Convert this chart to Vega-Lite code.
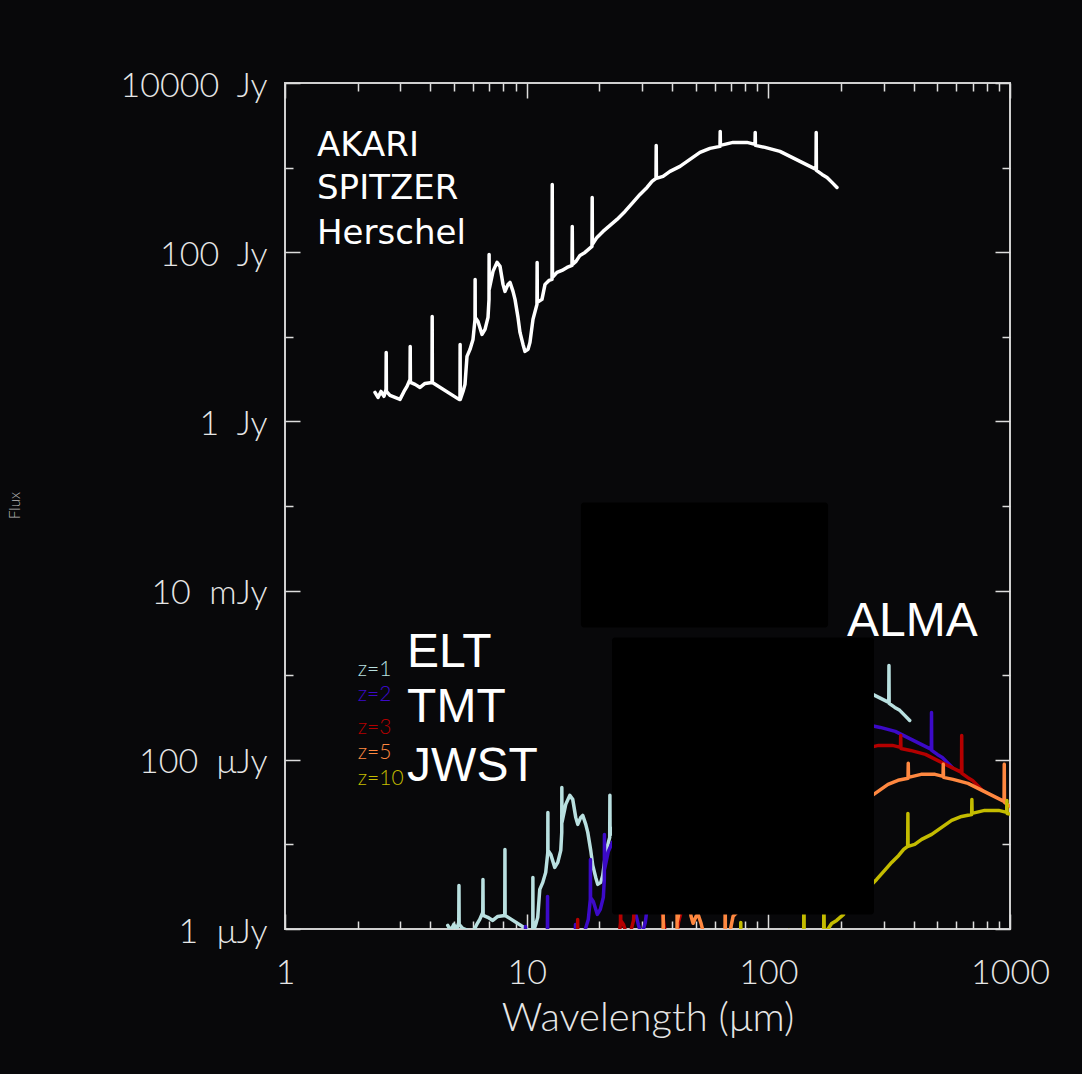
{
  "$schema": "https://vega.github.io/schema/vega-lite/v6.json",
  "width": 725,
  "height": 846,
  "autosize": "none",
  "padding": {"left": 285, "top": 83, "right": 72, "bottom": 145},
  "background": "#08080a",
  "config": {
    "view": {"stroke": "#cfcfcf", "strokeWidth": 2},
    "axis": {
      "domain": false,
      "grid": false,
      "tickColor": "#dddddd",
      "tickWidth": 1.5,
      "labelColor": "#e6e6e6",
      "labelFont": "Lato",
      "labelFontWeight": 300,
      "labelFontSize": 34,
      "labelFlush": false,
      "labelOverlap": false,
      "labelBound": false,
      "titleColor": "#e6e6e6",
      "titleFont": "Lato",
      "titleFontWeight": 300
    }
  },
  "datasets": {
    "sed": [
      {"series":"local","wavelength":2.357,"flux":2.20},{"series":"local","wavelength":2.426,"flux":1.92},{"series":"local","wavelength":2.496,"flux":2.26},{"series":"local","wavelength":2.568,"flux":1.98},{"series":"local","wavelength":2.618,"flux":2.39},{"series":"local","wavelength":2.623,"flux":6.54},{"series":"local","wavelength":2.628,"flux":2.26},{"series":"local","wavelength":2.719,"flux":2.03},{"series":"local","wavelength":2.852,"flux":1.92},{"series":"local","wavelength":2.991,"flux":1.82},{"series":"local","wavelength":3.108,"flux":2.26},{"series":"local","wavelength":3.198,"flux":2.59},{"series":"local","wavelength":3.291,"flux":3.14},{"series":"local","wavelength":3.297,"flux":7.70},{"series":"local","wavelength":3.303,"flux":2.89},{"series":"local","wavelength":3.452,"flux":2.74},{"series":"local","wavelength":3.620,"flux":2.52},{"series":"local","wavelength":3.797,"flux":2.81},{"series":"local","wavelength":4.058,"flux":2.89},{"series":"local","wavelength":4.065,"flux":17.42},{"series":"local","wavelength":4.072,"flux":2.89},{"series":"local","wavelength":5.248,"flux":1.82},{"series":"local","wavelength":5.298,"flux":1.87},{"series":"local","wavelength":5.305,"flux":8.13},{"series":"local","wavelength":5.312,"flux":1.82},{"series":"local","wavelength":5.452,"flux":2.26},{"series":"local","wavelength":5.557,"flux":2.74},{"series":"local","wavelength":5.664,"flux":5.87},{"series":"local","wavelength":5.828,"flux":7.10},{"series":"local","wavelength":5.997,"flux":9.32},{"series":"local","wavelength":6.113,"flux":16.06},{"series":"local","wavelength":6.120,"flux":47.7},{"series":"local","wavelength":6.127,"flux":16.96},{"series":"local","wavelength":6.290,"flux":15.21},{"series":"local","wavelength":6.535,"flux":10.67},{"series":"local","wavelength":6.724,"flux":12.23},{"series":"local","wavelength":6.919,"flux":16.96},{"series":"local","wavelength":6.985,"flux":27.68},{"series":"local","wavelength":6.992,"flux":94.19},{"series":"local","wavelength":6.999,"flux":36.34},{"series":"local","wavelength":7.256,"flux":59.3},{"series":"local","wavelength":7.539,"flux":75.77},{"series":"local","wavelength":7.757,"flux":67.96},{"series":"local","wavelength":7.982,"flux":41.64},{"series":"local","wavelength":8.136,"flux":34.41},{"series":"local","wavelength":8.371,"flux":41.64},{"series":"local","wavelength":8.532,"flux":43.95},{"series":"local","wavelength":8.780,"flux":34.41},{"series":"local","wavelength":8.949,"flux":27.68},{"series":"local","wavelength":9.206,"flux":16.96},{"series":"local","wavelength":9.384,"flux":11.27},{"series":"local","wavelength":9.657,"flux":8.13},{"series":"local","wavelength":9.842,"flux":6.72},{"series":"local","wavelength":10.13,"flux":7.10},{"series":"local","wavelength":10.32,"flux":8.59},{"series":"local","wavelength":10.62,"flux":16.06},{"series":"local","wavelength":11.03,"flux":24.15},{"series":"local","wavelength":11.05,"flux":75.77},{"series":"local","wavelength":11.07,"flux":25.5},{"series":"local","wavelength":11.57,"flux":27.68},{"series":"local","wavelength":11.91,"flux":41.64},{"series":"local","wavelength":12.37,"flux":46.42},{"series":"local","wavelength":12.73,"flux":47.70},{"series":"local","wavelength":12.76,"flux":633},{"series":"local","wavelength":12.79,"flux":50.36},{"series":"local","wavelength":13.35,"flux":57.70},{"series":"local","wavelength":14.00,"flux":60.94},{"series":"local","wavelength":14.69,"flux":66.14},{"series":"local","wavelength":15.40,"flux":69.82},{"series":"local","wavelength":15.44,"flux":201.8},{"series":"local","wavelength":15.48,"flux":71.75},{"series":"local","wavelength":16.00,"flux":77.85},{"series":"local","wavelength":16.62,"flux":91.68},{"series":"local","wavelength":17.43,"flux":99.45},{"series":"local","wavelength":18.63,"flux":117.1},{"series":"local","wavelength":18.67,"flux":444.4},{"series":"local","wavelength":18.71,"flux":123.7},{"series":"local","wavelength":19.54,"flux":149.6},{"series":"local","wavelength":20.70,"flux":176.2},{"series":"local","wavelength":22.13,"flux":207.4},{"series":"local","wavelength":23.65,"flux":244.2},{"series":"local","wavelength":25.52,"flux":303.6},{"series":"local","wavelength":27.54,"flux":388},{"series":"local","wavelength":29.44,"flux":482},{"series":"local","wavelength":31.48,"flux":583.4},{"series":"local","wavelength":33.01,"flux":687},{"series":"local","wavelength":34.29,"flux":745.5},{"series":"local","wavelength":34.36,"flux":1830},{"series":"local","wavelength":34.43,"flux":745.5},{"series":"local","wavelength":36.66,"flux":787},{"series":"local","wavelength":39.19,"flux":902},{"series":"local","wavelength":43.10,"flux":1033},{"series":"local","wavelength":47.40,"flux":1250},{"series":"local","wavelength":52.14,"flux":1512},{"series":"local","wavelength":57.35,"flux":1687},{"series":"local","wavelength":63.09,"flux":1781},{"series":"local","wavelength":63.22,"flux":2679},{"series":"local","wavelength":63.35,"flux":1830},{"series":"local","wavelength":71.42,"flux":1986},{"series":"local","wavelength":81.60,"flux":1986},{"series":"local","wavelength":88.07,"flux":1880},{"series":"local","wavelength":88.25,"flux":2607},{"series":"local","wavelength":88.43,"flux":1830},{"series":"local","wavelength":96.87,"flux":1733},{"series":"local","wavelength":111.7,"flux":1554},{"series":"local","wavelength":122.9,"flux":1357},{"series":"local","wavelength":135.2,"flux":1184},{"series":"local","wavelength":145.9,"flux":1062},{"series":"local","wavelength":157.5,"flux":952},{"series":"local","wavelength":157.8,"flux":2607},{"series":"local","wavelength":158.1,"flux":926.7},{"series":"local","wavelength":166.8,"flux":831},{"series":"local","wavelength":174.9,"flux":766},{"series":"local","wavelength":183.4,"flux":668.7},{"series":"local","wavelength":192.3,"flux":583.4},

      {"series":"z=1","wavelength":4.714,"flux":1.102e-6},{"series":"z=1","wavelength":4.852,"flux":9.62e-7},{"series":"z=1","wavelength":4.992,"flux":1.132e-6},{"series":"z=1","wavelength":5.136,"flux":9.92e-7},{"series":"z=1","wavelength":5.236,"flux":1.197e-6},{"series":"z=1","wavelength":5.246,"flux":3.277e-6},{"series":"z=1","wavelength":5.256,"flux":1.132e-6},{"series":"z=1","wavelength":5.438,"flux":1.017e-6},{"series":"z=1","wavelength":5.704,"flux":9.62e-7},{"series":"z=1","wavelength":5.982,"flux":9.12e-7},{"series":"z=1","wavelength":6.216,"flux":1.132e-6},{"series":"z=1","wavelength":6.396,"flux":1.298e-6},{"series":"z=1","wavelength":6.582,"flux":1.573e-6},{"series":"z=1","wavelength":6.594,"flux":3.858e-6},{"series":"z=1","wavelength":6.606,"flux":1.448e-6},{"series":"z=1","wavelength":6.904,"flux":1.373e-6},{"series":"z=1","wavelength":7.240,"flux":1.263e-6},{"series":"z=1","wavelength":7.594,"flux":1.408e-6},{"series":"z=1","wavelength":8.116,"flux":1.448e-6},{"series":"z=1","wavelength":8.130,"flux":8.73e-6},{"series":"z=1","wavelength":8.144,"flux":1.448e-6},{"series":"z=1","wavelength":10.50,"flux":9.12e-7},{"series":"z=1","wavelength":10.60,"flux":9.37e-7},{"series":"z=1","wavelength":10.61,"flux":4.07e-6},{"series":"z=1","wavelength":10.62,"flux":9.12e-7},{"series":"z=1","wavelength":10.90,"flux":1.132e-6},{"series":"z=1","wavelength":11.11,"flux":1.373e-6},{"series":"z=1","wavelength":11.33,"flux":2.94e-6},{"series":"z=1","wavelength":11.66,"flux":3.557e-6},{"series":"z=1","wavelength":11.99,"flux":4.67e-6},{"series":"z=1","wavelength":12.23,"flux":8.05e-6},{"series":"z=1","wavelength":12.24,"flux":2.39e-5},{"series":"z=1","wavelength":12.25,"flux":8.50e-6},{"series":"z=1","wavelength":12.58,"flux":7.62e-6},{"series":"z=1","wavelength":13.07,"flux":5.35e-6},{"series":"z=1","wavelength":13.45,"flux":6.13e-6},{"series":"z=1","wavelength":13.84,"flux":8.50e-6},{"series":"z=1","wavelength":13.97,"flux":1.387e-5},{"series":"z=1","wavelength":13.98,"flux":4.72e-5},{"series":"z=1","wavelength":14.00,"flux":1.821e-5},{"series":"z=1","wavelength":14.51,"flux":2.97e-5},{"series":"z=1","wavelength":15.08,"flux":3.80e-5},{"series":"z=1","wavelength":15.51,"flux":3.405e-5},{"series":"z=1","wavelength":15.96,"flux":2.086e-5},{"series":"z=1","wavelength":16.27,"flux":1.724e-5},{"series":"z=1","wavelength":16.74,"flux":2.086e-5},{"series":"z=1","wavelength":17.06,"flux":2.202e-5},{"series":"z=1","wavelength":17.56,"flux":1.724e-5},{"series":"z=1","wavelength":17.90,"flux":1.387e-5},{"series":"z=1","wavelength":18.41,"flux":8.50e-6},{"series":"z=1","wavelength":18.77,"flux":5.65e-6},{"series":"z=1","wavelength":19.31,"flux":4.07e-6},{"series":"z=1","wavelength":19.68,"flux":3.37e-6},{"series":"z=1","wavelength":20.26,"flux":3.557e-6},{"series":"z=1","wavelength":20.64,"flux":4.30e-6},{"series":"z=1","wavelength":21.24,"flux":8.05e-6},{"series":"z=1","wavelength":22.06,"flux":1.21e-5},{"series":"z=1","wavelength":22.10,"flux":3.80e-5},{"series":"z=1","wavelength":22.14,"flux":1.278e-5},{"series":"z=1","wavelength":23.82,"flux":2.086e-5},{"series":"z=1","wavelength":33.24,"flux":4.59e-5},{"series":"z=1","wavelength":47.30,"flux":1.223e-4},{"series":"z=1","wavelength":62.96,"flux":2.923e-4},{"series":"z=1","wavelength":86.2,"flux":5.18e-4},{"series":"z=1","wavelength":104.3,"flux":7.58e-4},{"series":"z=1","wavelength":142.8,"flux":9.95e-4},{"series":"z=1","wavelength":163.2,"flux":9.95e-4},{"series":"z=1","wavelength":193.7,"flux":8.68e-4},{"series":"z=1","wavelength":223.4,"flux":7.79e-4},{"series":"z=1","wavelength":245.8,"flux":6.80e-4},{"series":"z=1","wavelength":270.4,"flux":5.93e-4},{"series":"z=1","wavelength":291.8,"flux":5.32e-4},{"series":"z=1","wavelength":315.0,"flux":4.77e-4},{"series":"z=1","wavelength":315.6,"flux":1.306e-3},{"series":"z=1","wavelength":316.2,"flux":4.64e-4},{"series":"z=1","wavelength":333.6,"flux":4.16e-4},{"series":"z=1","wavelength":349.8,"flux":3.84e-4},{"series":"z=1","wavelength":366.8,"flux":3.35e-4},{"series":"z=1","wavelength":384.6,"flux":2.92e-4},

      {"series":"z=2","wavelength":7.071,"flux":3.065e-7},{"series":"z=2","wavelength":7.854,"flux":3.33e-7},{"series":"z=2","wavelength":7.869,"flux":9.11e-7},{"series":"z=2","wavelength":7.884,"flux":3.15e-7},{"series":"z=2","wavelength":8.973,"flux":2.535e-7},{"series":"z=2","wavelength":9.873,"flux":4.37e-7},{"series":"z=2","wavelength":9.891,"flux":1.073e-6},{"series":"z=2","wavelength":9.909,"flux":4.03e-7},{"series":"z=2","wavelength":10.86,"flux":3.51e-7},{"series":"z=2","wavelength":12.17,"flux":4.03e-7},{"series":"z=2","wavelength":12.20,"flux":2.427e-6},{"series":"z=2","wavelength":12.22,"flux":4.03e-7},{"series":"z=2","wavelength":15.74,"flux":2.535e-7},{"series":"z=2","wavelength":15.89,"flux":2.60e-7},{"series":"z=2","wavelength":15.92,"flux":1.133e-6},{"series":"z=2","wavelength":15.94,"flux":2.535e-7},{"series":"z=2","wavelength":16.67,"flux":3.82e-7},{"series":"z=2","wavelength":16.99,"flux":8.18e-7},{"series":"z=2","wavelength":17.48,"flux":9.89e-7},{"series":"z=2","wavelength":17.99,"flux":1.298e-6},{"series":"z=2","wavelength":18.34,"flux":2.237e-6},{"series":"z=2","wavelength":18.36,"flux":6.645e-6},{"series":"z=2","wavelength":18.38,"flux":2.363e-6},{"series":"z=2","wavelength":18.87,"flux":2.119e-6},{"series":"z=2","wavelength":19.61,"flux":1.486e-6},{"series":"z=2","wavelength":20.17,"flux":1.704e-6},{"series":"z=2","wavelength":20.76,"flux":2.363e-6},{"series":"z=2","wavelength":20.96,"flux":3.856e-6},{"series":"z=2","wavelength":20.98,"flux":1.312e-5},{"series":"z=2","wavelength":21.00,"flux":5.06e-6},{"series":"z=2","wavelength":21.77,"flux":8.26e-6},{"series":"z=2","wavelength":22.62,"flux":1.0555e-5},{"series":"z=2","wavelength":23.27,"flux":9.47e-6},{"series":"z=2","wavelength":23.95,"flux":5.80e-6},{"series":"z=2","wavelength":24.41,"flux":4.79e-6},{"series":"z=2","wavelength":25.11,"flux":5.80e-6},{"series":"z=2","wavelength":25.60,"flux":6.12e-6},{"series":"z=2","wavelength":26.34,"flux":4.79e-6},{"series":"z=2","wavelength":26.85,"flux":3.856e-6},{"series":"z=2","wavelength":27.62,"flux":2.363e-6},{"series":"z=2","wavelength":28.15,"flux":1.570e-6},{"series":"z=2","wavelength":28.97,"flux":1.133e-6},{"series":"z=2","wavelength":29.53,"flux":9.36e-7},{"series":"z=2","wavelength":30.39,"flux":9.89e-7},{"series":"z=2","wavelength":30.96,"flux":1.196e-6},{"series":"z=2","wavelength":31.86,"flux":2.237e-6},{"series":"z=2","wavelength":33.09,"flux":3.364e-6},{"series":"z=2","wavelength":33.15,"flux":1.0555e-5},{"series":"z=2","wavelength":33.21,"flux":3.55e-6},{"series":"z=2","wavelength":35.73,"flux":5.80e-6},{"series":"z=2","wavelength":38.19,"flux":6.645e-6},{"series":"z=2","wavelength":38.28,"flux":8.82e-5},{"series":"z=2","wavelength":38.37,"flux":7.015e-6},{"series":"z=2","wavelength":42.00,"flux":8.49e-6},{"series":"z=2","wavelength":46.20,"flux":9.73e-6},{"series":"z=2","wavelength":46.32,"flux":2.811e-5},{"series":"z=2","wavelength":46.44,"flux":9.99e-6},{"series":"z=2","wavelength":49.86,"flux":1.277e-5},{"series":"z=2","wavelength":55.89,"flux":1.631e-5},{"series":"z=2","wavelength":56.01,"flux":6.19e-5},{"series":"z=2","wavelength":56.13,"flux":1.723e-5},{"series":"z=2","wavelength":62.10,"flux":2.454e-5},{"series":"z=2","wavelength":70.95,"flux":3.40e-5},{"series":"z=2","wavelength":82.62,"flux":5.40e-5},{"series":"z=2","wavelength":94.44,"flux":8.13e-5},{"series":"z=2","wavelength":102.9,"flux":1.0385e-4},{"series":"z=2","wavelength":103.1,"flux":2.549e-4},{"series":"z=2","wavelength":103.3,"flux":1.0385e-4},{"series":"z=2","wavelength":117.6,"flux":1.256e-4},{"series":"z=2","wavelength":142.2,"flux":1.741e-4},{"series":"z=2","wavelength":156.4,"flux":2.106e-4},{"series":"z=2","wavelength":189.3,"flux":2.481e-4},{"series":"z=2","wavelength":189.7,"flux":3.73e-4},{"series":"z=2","wavelength":190.1,"flux":2.549e-4},{"series":"z=2","wavelength":214.3,"flux":2.767e-4},{"series":"z=2","wavelength":244.8,"flux":2.767e-4},{"series":"z=2","wavelength":264.2,"flux":2.619e-4},{"series":"z=2","wavelength":264.8,"flux":3.63e-4},{"series":"z=2","wavelength":265.3,"flux":2.549e-4},{"series":"z=2","wavelength":290.6,"flux":2.414e-4},{"series":"z=2","wavelength":335.1,"flux":2.165e-4},{"series":"z=2","wavelength":368.7,"flux":1.890e-4},{"series":"z=2","wavelength":405.6,"flux":1.649e-4},{"series":"z=2","wavelength":437.7,"flux":1.479e-4},{"series":"z=2","wavelength":472.5,"flux":1.326e-4},{"series":"z=2","wavelength":473.4,"flux":3.63e-4},{"series":"z=2","wavelength":474.3,"flux":1.291e-4},{"series":"z=2","wavelength":500.4,"flux":1.158e-4},{"series":"z=2","wavelength":524.7,"flux":1.067e-4},{"series":"z=2","wavelength":550.2,"flux":9.31e-5},{"series":"z=2","wavelength":576.9,"flux":8.13e-5},

      {"series":"z=3","wavelength":9.428,"flux":1.639e-7},{"series":"z=3","wavelength":10.47,"flux":1.78e-7},{"series":"z=3","wavelength":10.49,"flux":4.87e-7},{"series":"z=3","wavelength":10.51,"flux":1.68e-7},{"series":"z=3","wavelength":11.96,"flux":1.356e-7},{"series":"z=3","wavelength":13.16,"flux":2.34e-7},{"series":"z=3","wavelength":13.19,"flux":5.74e-7},{"series":"z=3","wavelength":13.21,"flux":2.15e-7},{"series":"z=3","wavelength":14.48,"flux":1.88e-7},{"series":"z=3","wavelength":16.23,"flux":2.15e-7},{"series":"z=3","wavelength":16.26,"flux":1.298e-6},{"series":"z=3","wavelength":16.29,"flux":2.15e-7},{"series":"z=3","wavelength":20.99,"flux":1.356e-7},{"series":"z=3","wavelength":21.19,"flux":1.39e-7},{"series":"z=3","wavelength":21.22,"flux":6.06e-7},{"series":"z=3","wavelength":21.25,"flux":1.356e-7},{"series":"z=3","wavelength":22.23,"flux":2.04e-7},{"series":"z=3","wavelength":22.66,"flux":4.37e-7},{"series":"z=3","wavelength":23.31,"flux":5.29e-7},{"series":"z=3","wavelength":23.99,"flux":6.94e-7},{"series":"z=3","wavelength":24.45,"flux":1.196e-6},{"series":"z=3","wavelength":24.48,"flux":3.554e-6},{"series":"z=3","wavelength":24.51,"flux":1.264e-6},{"series":"z=3","wavelength":25.16,"flux":1.133e-6},{"series":"z=3","wavelength":26.14,"flux":7.95e-7},{"series":"z=3","wavelength":26.90,"flux":9.11e-7},{"series":"z=3","wavelength":27.68,"flux":1.264e-6},{"series":"z=3","wavelength":27.94,"flux":2.062e-6},{"series":"z=3","wavelength":27.97,"flux":7.017e-6},{"series":"z=3","wavelength":28.00,"flux":2.707e-6},{"series":"z=3","wavelength":29.02,"flux":4.418e-6},{"series":"z=3","wavelength":30.16,"flux":5.645e-6},{"series":"z=3","wavelength":31.03,"flux":5.063e-6},{"series":"z=3","wavelength":31.93,"flux":3.102e-6},{"series":"z=3","wavelength":32.54,"flux":2.564e-6},{"series":"z=3","wavelength":33.48,"flux":3.102e-6},{"series":"z=3","wavelength":34.13,"flux":3.274e-6},{"series":"z=3","wavelength":35.12,"flux":2.564e-6},{"series":"z=3","wavelength":35.80,"flux":2.062e-6},{"series":"z=3","wavelength":36.82,"flux":1.264e-6},{"series":"z=3","wavelength":37.54,"flux":8.40e-7},{"series":"z=3","wavelength":38.63,"flux":6.06e-7},{"series":"z=3","wavelength":39.37,"flux":5.01e-7},{"series":"z=3","wavelength":40.52,"flux":5.29e-7},{"series":"z=3","wavelength":41.28,"flux":6.40e-7},{"series":"z=3","wavelength":42.48,"flux":1.196e-6},{"series":"z=3","wavelength":44.12,"flux":1.80e-6},{"series":"z=3","wavelength":44.20,"flux":5.645e-6},{"series":"z=3","wavelength":44.28,"flux":1.90e-6},{"series":"z=3","wavelength":47.64,"flux":3.102e-6},{"series":"z=3","wavelength":50.92,"flux":3.554e-6},{"series":"z=3","wavelength":51.04,"flux":4.716e-5},{"series":"z=3","wavelength":51.16,"flux":3.752e-6},{"series":"z=3","wavelength":56.00,"flux":4.54e-6},{"series":"z=3","wavelength":61.60,"flux":5.20e-6},{"series":"z=3","wavelength":61.76,"flux":1.503e-5},{"series":"z=3","wavelength":61.92,"flux":5.345e-6},{"series":"z=3","wavelength":66.48,"flux":6.83e-6},{"series":"z=3","wavelength":74.52,"flux":8.72e-6},{"series":"z=3","wavelength":74.68,"flux":3.311e-5},{"series":"z=3","wavelength":74.84,"flux":9.22e-6},{"series":"z=3","wavelength":82.80,"flux":1.313e-5},{"series":"z=3","wavelength":94.60,"flux":1.819e-5},{"series":"z=3","wavelength":110.2,"flux":2.891e-5},{"series":"z=3","wavelength":125.9,"flux":4.346e-5},{"series":"z=3","wavelength":137.2,"flux":5.554e-5},{"series":"z=3","wavelength":137.4,"flux":1.363e-4},{"series":"z=3","wavelength":137.7,"flux":5.554e-5},{"series":"z=3","wavelength":156.8,"flux":6.72e-5},{"series":"z=3","wavelength":189.6,"flux":9.31e-5},{"series":"z=3","wavelength":208.6,"flux":1.126e-4},{"series":"z=3","wavelength":252.4,"flux":1.327e-4},{"series":"z=3","wavelength":252.9,"flux":1.996e-4},{"series":"z=3","wavelength":253.4,"flux":1.363e-4},{"series":"z=3","wavelength":285.7,"flux":1.480e-4},{"series":"z=3","wavelength":326.4,"flux":1.480e-4},{"series":"z=3","wavelength":352.3,"flux":1.401e-4},{"series":"z=3","wavelength":353.0,"flux":1.942e-4},{"series":"z=3","wavelength":353.7,"flux":1.363e-4},{"series":"z=3","wavelength":387.5,"flux":1.291e-4},{"series":"z=3","wavelength":446.8,"flux":1.158e-4},{"series":"z=3","wavelength":491.6,"flux":1.011e-4},{"series":"z=3","wavelength":540.8,"flux":8.82e-5},{"series":"z=3","wavelength":583.6,"flux":7.91e-5},{"series":"z=3","wavelength":630.0,"flux":7.09e-5},{"series":"z=3","wavelength":631.2,"flux":1.942e-4},{"series":"z=3","wavelength":632.4,"flux":6.90e-5},{"series":"z=3","wavelength":667.2,"flux":6.19e-5},{"series":"z=3","wavelength":699.6,"flux":5.71e-5},{"series":"z=3","wavelength":733.6,"flux":4.98e-5},{"series":"z=3","wavelength":769.2,"flux":4.35e-5},

      {"series":"z=5","wavelength":14.14,"flux":7.46e-8},{"series":"z=5","wavelength":15.71,"flux":8.10e-8},{"series":"z=5","wavelength":15.74,"flux":2.217e-7},{"series":"z=5","wavelength":15.77,"flux":7.66e-8},{"series":"z=5","wavelength":17.95,"flux":6.17e-8},{"series":"z=5","wavelength":19.75,"flux":1.064e-7},{"series":"z=5","wavelength":19.78,"flux":2.61e-7},{"series":"z=5","wavelength":19.82,"flux":9.80e-8},{"series":"z=5","wavelength":21.72,"flux":8.54e-8},{"series":"z=5","wavelength":24.35,"flux":9.80e-8},{"series":"z=5","wavelength":24.39,"flux":5.905e-7},{"series":"z=5","wavelength":24.43,"flux":9.80e-8},{"series":"z=5","wavelength":31.49,"flux":6.17e-8},{"series":"z=5","wavelength":31.79,"flux":6.34e-8},{"series":"z=5","wavelength":31.83,"flux":2.756e-7},{"series":"z=5","wavelength":31.87,"flux":6.17e-8},{"series":"z=5","wavelength":33.34,"flux":9.29e-8},{"series":"z=5","wavelength":33.98,"flux":1.99e-7},{"series":"z=5","wavelength":34.97,"flux":2.407e-7},{"series":"z=5","wavelength":35.98,"flux":3.159e-7},{"series":"z=5","wavelength":36.68,"flux":5.444e-7},{"series":"z=5","wavelength":36.72,"flux":1.617e-6},{"series":"z=5","wavelength":36.76,"flux":5.749e-7},{"series":"z=5","wavelength":37.74,"flux":5.156e-7},{"series":"z=5","wavelength":39.21,"flux":3.617e-7},{"series":"z=5","wavelength":40.34,"flux":4.146e-7},{"series":"z=5","wavelength":41.51,"flux":5.749e-7},{"series":"z=5","wavelength":41.91,"flux":9.38e-7},{"series":"z=5","wavelength":41.95,"flux":3.193e-6},{"series":"z=5","wavelength":41.99,"flux":1.232e-6},{"series":"z=5","wavelength":43.54,"flux":2.010e-6},{"series":"z=5","wavelength":45.23,"flux":2.569e-6},{"series":"z=5","wavelength":46.54,"flux":2.304e-6},{"series":"z=5","wavelength":47.89,"flux":1.412e-6},{"series":"z=5","wavelength":48.82,"flux":1.167e-6},{"series":"z=5","wavelength":50.23,"flux":1.412e-6},{"series":"z=5","wavelength":51.19,"flux":1.490e-6},{"series":"z=5","wavelength":52.68,"flux":1.167e-6},{"series":"z=5","wavelength":53.69,"flux":9.38e-7},{"series":"z=5","wavelength":55.24,"flux":5.749e-7},{"series":"z=5","wavelength":56.30,"flux":3.821e-7},{"series":"z=5","wavelength":57.94,"flux":2.756e-7},{"series":"z=5","wavelength":59.05,"flux":2.278e-7},{"series":"z=5","wavelength":60.78,"flux":2.407e-7},{"series":"z=5","wavelength":61.92,"flux":2.912e-7},{"series":"z=5","wavelength":63.72,"flux":5.444e-7},{"series":"z=5","wavelength":66.18,"flux":8.19e-7},{"series":"z=5","wavelength":66.30,"flux":2.569e-6},{"series":"z=5","wavelength":66.42,"flux":8.64e-7},{"series":"z=5","wavelength":69.42,"flux":9.38e-7},{"series":"z=5","wavelength":71.46,"flux":1.412e-6},{"series":"z=5","wavelength":74.22,"flux":1.574e-6},{"series":"z=5","wavelength":76.38,"flux":1.617e-6},{"series":"z=5","wavelength":76.56,"flux":2.146e-5},{"series":"z=5","wavelength":76.74,"flux":1.707e-6},{"series":"z=5","wavelength":80.10,"flux":1.956e-6},{"series":"z=5","wavelength":84.00,"flux":2.066e-6},{"series":"z=5","wavelength":88.14,"flux":2.242e-6},{"series":"z=5","wavelength":92.40,"flux":2.367e-6},{"series":"z=5","wavelength":92.64,"flux":6.841e-6},{"series":"z=5","wavelength":92.88,"flux":2.432e-6},{"series":"z=5","wavelength":96.00,"flux":2.639e-6},{"series":"z=5","wavelength":99.72,"flux":3.108e-6},{"series":"z=5","wavelength":104.6,"flux":3.371e-6},{"series":"z=5","wavelength":111.8,"flux":3.970e-6},{"series":"z=5","wavelength":112.0,"flux":1.507e-5},{"series":"z=5","wavelength":112.3,"flux":4.193e-6},{"series":"z=5","wavelength":117.2,"flux":5.071e-6},{"series":"z=5","wavelength":124.2,"flux":5.973e-6},{"series":"z=5","wavelength":132.8,"flux":7.031e-6},{"series":"z=5","wavelength":141.9,"flux":8.278e-6},{"series":"z=5","wavelength":153.1,"flux":1.029e-5},{"series":"z=5","wavelength":165.2,"flux":1.315e-5},{"series":"z=5","wavelength":176.6,"flux":1.634e-5},{"series":"z=5","wavelength":188.9,"flux":1.978e-5},{"series":"z=5","wavelength":198.1,"flux":2.329e-5},{"series":"z=5","wavelength":205.7,"flux":2.527e-5},{"series":"z=5","wavelength":206.2,"flux":6.204e-5},{"series":"z=5","wavelength":206.6,"flux":2.527e-5},{"series":"z=5","wavelength":220.0,"flux":2.668e-5},{"series":"z=5","wavelength":235.1,"flux":3.058e-5},{"series":"z=5","wavelength":258.6,"flux":3.502e-5},{"series":"z=5","wavelength":284.4,"flux":4.238e-5},{"series":"z=5","wavelength":312.8,"flux":5.126e-5},{"series":"z=5","wavelength":344.1,"flux":5.719e-5},{"series":"z=5","wavelength":378.5,"flux":6.038e-5},{"series":"z=5","wavelength":379.3,"flux":9.082e-5},{"series":"z=5","wavelength":380.1,"flux":6.204e-5},{"series":"z=5","wavelength":428.5,"flux":6.733e-5},{"series":"z=5","wavelength":489.6,"flux":6.733e-5},{"series":"z=5","wavelength":528.4,"flux":6.373e-5},{"series":"z=5","wavelength":529.5,"flux":8.838e-5},{"series":"z=5","wavelength":530.6,"flux":6.204e-5},{"series":"z=5","wavelength":581.2,"flux":5.875e-5},{"series":"z=5","wavelength":670.2,"flux":5.268e-5},{"series":"z=5","wavelength":737.4,"flux":4.600e-5},{"series":"z=5","wavelength":811.2,"flux":4.014e-5},{"series":"z=5","wavelength":875.4,"flux":3.600e-5},{"series":"z=5","wavelength":945.0,"flux":3.227e-5},{"series":"z=5","wavelength":946.8,"flux":8.838e-5},{"series":"z=5","wavelength":948.6,"flux":3.141e-5},{"series":"z=5","wavelength":1000.8,"flux":2.817e-5},{"series":"z=5","wavelength":1049.4,"flux":2.597e-5},

      {"series":"z=10","wavelength":25.93,"flux":2.79e-8},{"series":"z=10","wavelength":32.90,"flux":2.31e-8},{"series":"z=10","wavelength":44.64,"flux":3.67e-8},{"series":"z=10","wavelength":44.72,"flux":2.212e-7},{"series":"z=10","wavelength":44.79,"flux":3.67e-8},{"series":"z=10","wavelength":57.73,"flux":2.31e-8},{"series":"z=10","wavelength":62.30,"flux":7.45e-8},{"series":"z=10","wavelength":65.97,"flux":1.184e-7},{"series":"z=10","wavelength":67.24,"flux":2.04e-7},{"series":"z=10","wavelength":67.32,"flux":6.058e-7},{"series":"z=10","wavelength":67.40,"flux":2.154e-7},{"series":"z=10","wavelength":69.19,"flux":1.932e-7},{"series":"z=10","wavelength":71.89,"flux":1.355e-7},{"series":"z=10","wavelength":76.11,"flux":2.154e-7},{"series":"z=10","wavelength":76.84,"flux":3.515e-7},{"series":"z=10","wavelength":76.91,"flux":1.196e-6},{"series":"z=10","wavelength":76.99,"flux":4.615e-7},{"series":"z=10","wavelength":79.82,"flux":7.53e-7},{"series":"z=10","wavelength":82.93,"flux":9.62e-7},{"series":"z=10","wavelength":85.33,"flux":8.63e-7},{"series":"z=10","wavelength":87.80,"flux":5.29e-7},{"series":"z=10","wavelength":89.50,"flux":4.37e-7},{"series":"z=10","wavelength":92.08,"flux":5.29e-7},{"series":"z=10","wavelength":93.85,"flux":5.58e-7},{"series":"z=10","wavelength":96.58,"flux":4.37e-7},{"series":"z=10","wavelength":98.44,"flux":3.515e-7},{"series":"z=10","wavelength":101.3,"flux":2.154e-7},{"series":"z=10","wavelength":103.2,"flux":1.431e-7},{"series":"z=10","wavelength":106.2,"flux":1.033e-7},{"series":"z=10","wavelength":108.3,"flux":8.53e-8},{"series":"z=10","wavelength":111.4,"flux":9.02e-8},{"series":"z=10","wavelength":113.5,"flux":1.091e-7},{"series":"z=10","wavelength":116.8,"flux":2.04e-7},{"series":"z=10","wavelength":121.3,"flux":3.067e-7},{"series":"z=10","wavelength":121.6,"flux":9.62e-7},{"series":"z=10","wavelength":121.8,"flux":3.239e-7},{"series":"z=10","wavelength":127.3,"flux":3.515e-7},{"series":"z=10","wavelength":131.0,"flux":5.29e-7},{"series":"z=10","wavelength":136.1,"flux":5.895e-7},{"series":"z=10","wavelength":140.0,"flux":6.058e-7},{"series":"z=10","wavelength":140.4,"flux":8.039e-6},{"series":"z=10","wavelength":140.7,"flux":6.396e-7},{"series":"z=10","wavelength":146.9,"flux":7.328e-7},{"series":"z=10","wavelength":154.0,"flux":7.739e-7},{"series":"z=10","wavelength":161.6,"flux":8.40e-7},{"series":"z=10","wavelength":169.4,"flux":8.867e-7},{"series":"z=10","wavelength":169.8,"flux":2.563e-6},{"series":"z=10","wavelength":170.3,"flux":9.112e-7},{"series":"z=10","wavelength":176.0,"flux":9.887e-7},{"series":"z=10","wavelength":182.8,"flux":1.164e-6},{"series":"z=10","wavelength":191.7,"flux":1.263e-6},{"series":"z=10","wavelength":204.9,"flux":1.487e-6},{"series":"z=10","wavelength":205.4,"flux":5.644e-6},{"series":"z=10","wavelength":205.8,"flux":1.571e-6},{"series":"z=10","wavelength":214.9,"flux":1.900e-6},{"series":"z=10","wavelength":227.7,"flux":2.238e-6},{"series":"z=10","wavelength":243.4,"flux":2.634e-6},{"series":"z=10","wavelength":260.2,"flux":3.101e-6},{"series":"z=10","wavelength":280.7,"flux":3.856e-6},{"series":"z=10","wavelength":302.9,"flux":4.928e-6},{"series":"z=10","wavelength":323.8,"flux":6.121e-6},{"series":"z=10","wavelength":346.3,"flux":7.409e-6},{"series":"z=10","wavelength":363.1,"flux":8.725e-6},{"series":"z=10","wavelength":377.2,"flux":9.468e-6},{"series":"z=10","wavelength":378.0,"flux":2.324e-5},{"series":"z=10","wavelength":378.7,"flux":9.468e-6},{"series":"z=10","wavelength":403.3,"flux":9.995e-6},{"series":"z=10","wavelength":431.1,"flux":1.146e-5},{"series":"z=10","wavelength":474.1,"flux":1.312e-5},{"series":"z=10","wavelength":521.4,"flux":1.588e-5},{"series":"z=10","wavelength":573.5,"flux":1.920e-5},{"series":"z=10","wavelength":630.9,"flux":2.142e-5},{"series":"z=10","wavelength":694.0,"flux":2.262e-5},{"series":"z=10","wavelength":695.4,"flux":3.402e-5},{"series":"z=10","wavelength":696.9,"flux":2.324e-5},{"series":"z=10","wavelength":785.6,"flux":2.522e-5},{"series":"z=10","wavelength":897.6,"flux":2.522e-5},{"series":"z=10","wavelength":968.8,"flux":2.388e-5},{"series":"z=10","wavelength":970.8,"flux":3.311e-5},{"series":"z=10","wavelength":972.7,"flux":2.324e-5},{"series":"z=10","wavelength":1065.6,"flux":2.201e-5}
    ],
    "masks": [
      {"lam_lo": 16.78, "lam_hi": 176.6, "flux_lo": 0.003673, "flux_hi": 0.1103},
      {"lam_lo": 22.55, "lam_hi": 273.6, "flux_lo": 1.488e-6, "flux_hi": 0.002797}
    ],
    "observatories": [
      {"label": "AKARI", "wavelength": 1.357, "flux": 1357},
      {"label": "SPITZER", "wavelength": 1.357, "flux": 421},
      {"label": "Herschel", "wavelength": 1.357, "flux": 123.7}
    ],
    "facilities": [
      {"label": "ELT", "wavelength": 3.2, "flux": 0.001236},
      {"label": "TMT", "wavelength": 3.2, "flux": 0.0002768},
      {"label": "JWST", "wavelength": 3.2, "flux": 0.0000555},
      {"label": "ALMA", "wavelength": 211.6, "flux": 0.002874}
    ],
    "redshifts": [
      {"series": "z=1", "wavelength": 2.0, "flux": 0.000968},
      {"series": "z=2", "wavelength": 2.0, "flux": 0.00049},
      {"series": "z=3", "wavelength": 2.0, "flux": 0.0001996},
      {"series": "z=5", "wavelength": 2.0, "flux": 0.0001011},
      {"series": "z=10", "wavelength": 2.0, "flux": 0.0000498}
    ]
  },
  "layer": [
    {
      "data": {"name": "sed"},
      "mark": {"type": "line", "strokeWidth": 3.5, "clip": true, "strokeJoin": "round", "strokeCap": "round"},
      "encoding": {
        "x": {
          "field": "wavelength", "type": "quantitative",
          "scale": {"type": "log", "domain": [1, 1000]},
          "axis": {"orient": "bottom", "values": [1, 10, 100, 1000], "tickSize": -15, "labelPadding": 42,
                   "labelExpr": "format(datum.value, 'd')",
                   "title": "Wavelength (μm)", "titleFontSize": 40, "titleY": 101, "titleBaseline": "alphabetic"}
        },
        "y": {
          "field": "flux", "type": "quantitative",
          "scale": {"type": "log", "domain": [0.000001, 10000]},
          "axis": {"orient": "left", "values": [0.000001, 0.0001, 0.01, 1, 100, 10000], "tickSize": -15, "labelPadding": 33, "labelOffset": 3,
                   "labelExpr": "datum.value == 10000 ? '10000 \u00a0Jy' : datum.value == 100 ? '100 \u00a0Jy' : datum.value == 1 ? '1 \u00a0Jy' : datum.value == 0.01 ? '10 \u00a0mJy' : datum.value == 0.0001 ? '100 \u00a0μJy' : '1 \u00a0μJy'",
                   "title": "Flux", "titleFontSize": 15, "titleColor": "#bbbbbb", "titleX": -263, "titleY": 422, "titleAngle": -90}
        },
        "color": {
          "field": "series", "type": "nominal",
          "scale": {"domain": ["local", "z=1", "z=2", "z=3", "z=5", "z=10"],
                    "range": ["#ffffff", "#b9e0e0", "#3c0ac8", "#b40000", "#ff8840", "#c4bc00"]},
          "legend": null
        }
      }
    },
    {
      "data": {"name": "masks"},
      "mark": {"type": "rect", "color": "#000000", "cornerRadius": 3},
      "encoding": {
        "x": {"field": "lam_lo", "type": "quantitative", "scale": {"type": "log", "domain": [1, 1000]},
              "axis": {"orient": "bottom", "values": [2,3,4,5,6,7,8,9,20,30,40,50,60,70,80,90,200,300,400,500,600,700,800,900], "tickSize": -8, "labels": false, "title": null}},
        "x2": {"field": "lam_hi"},
        "y": {"field": "flux_lo", "type": "quantitative", "scale": {"type": "log", "domain": [0.000001, 10000]},
              "axis": {"orient": "left", "values": [0.00001, 0.001, 0.1, 10, 1000], "tickSize": -8, "labels": false, "title": null}},
        "y2": {"field": "flux_hi"}
      }
    },
    {
      "data": {"name": "observatories"},
      "mark": {"type": "text", "align": "left", "baseline": "alphabetic", "font": "DejaVu Sans", "fontSize": 34, "color": "#ffffff"},
      "encoding": {
        "x": {"field": "wavelength", "type": "quantitative", "scale": {"type": "log", "domain": [1, 1000]},
              "axis": {"orient": "top", "values": [1, 10, 100, 1000], "tickSize": -15, "labels": false, "title": null}},
        "y": {"field": "flux", "type": "quantitative", "scale": {"type": "log", "domain": [0.000001, 10000]},
              "axis": {"orient": "right", "values": [0.000001, 0.0001, 0.01, 1, 100, 10000], "tickSize": -15, "labels": false, "title": null}},
        "text": {"field": "label"}
      }
    },
    {
      "data": {"name": "facilities"},
      "mark": {"type": "text", "align": "left", "baseline": "alphabetic", "font": "Liberation Sans", "fontSize": 48, "color": "#ffffff"},
      "encoding": {
        "x": {"field": "wavelength", "type": "quantitative", "scale": {"type": "log", "domain": [1, 1000]},
              "axis": {"orient": "top", "values": [2,3,4,5,6,7,8,9,20,30,40,50,60,70,80,90,200,300,400,500,600,700,800,900], "tickSize": -8, "labels": false, "title": null}},
        "y": {"field": "flux", "type": "quantitative", "scale": {"type": "log", "domain": [0.000001, 10000]},
              "axis": {"orient": "right", "values": [0.00001, 0.001, 0.1, 10, 1000], "tickSize": -8, "labels": false, "title": null}},
        "text": {"field": "label"}
      }
    },
    {
      "data": {"name": "redshifts"},
      "mark": {"type": "text", "align": "left", "baseline": "alphabetic", "font": "Lato", "fontWeight": 300, "fontSize": 21},
      "encoding": {
        "x": {"field": "wavelength", "type": "quantitative", "scale": {"type": "log", "domain": [1, 1000]}, "axis": null},
        "y": {"field": "flux", "type": "quantitative", "scale": {"type": "log", "domain": [0.000001, 10000]}, "axis": null},
        "text": {"field": "series"},
        "color": {"field": "series", "type": "nominal", "legend": null}
      }
    }
  ],
  "resolve": {"axis": {"x": "independent", "y": "independent"}}
}
